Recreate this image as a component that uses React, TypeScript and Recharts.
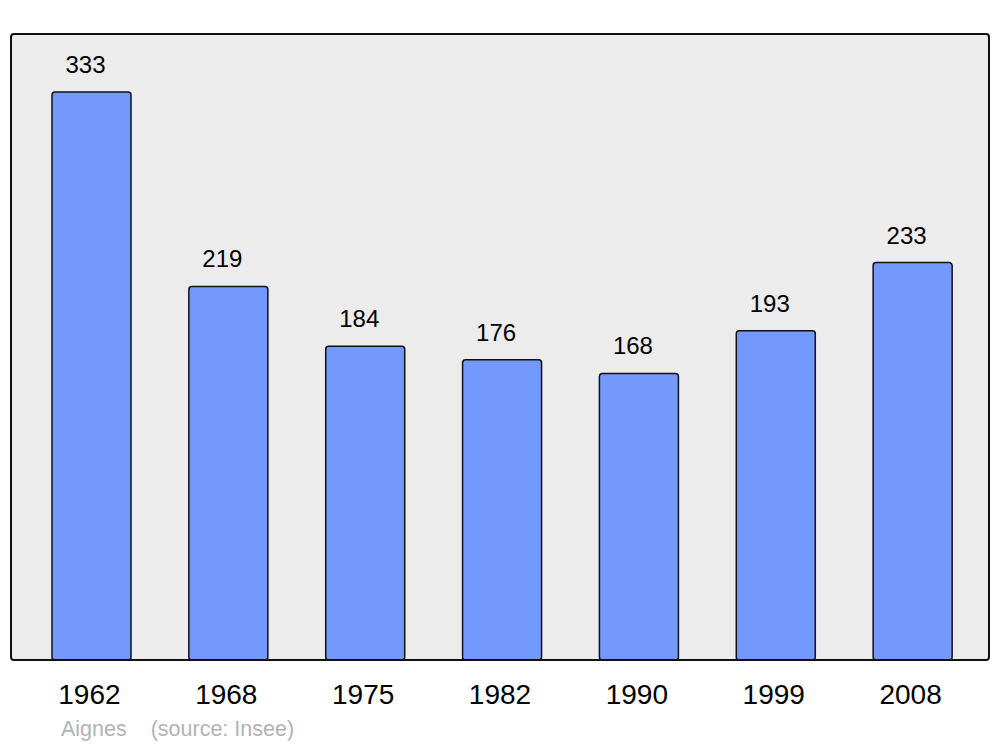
import { BarChart, Bar, XAxis, YAxis, CartesianGrid, LabelList } from 'recharts';

const years = ['1962', '1968', '1975', '1982', '1990', '1999', '2008'];
const population = [333, 219, 184, 176, 168, 193, 233];

const data = years.map((year, i) => ({ year, population: population[i] }));

const FONT = '"Liberation Sans", Arial, sans-serif';

// value labels sit a little left of the bar centre in the original
const renderValue = (props: any) => {
  const { x, y, width, value } = props;
  return (
    <text x={Number(x) + Number(width) / 2 - 6} y={Number(y) - 19} textAnchor="middle" fontSize={24} fill="#000" fontFamily={FONT}>
      {value}
    </text>
  );
};

const App = () => {
  return (
    <div style={{ position: 'absolute', left: 0, top: 0, width: 1000, height: 747, background: '#fff', fontFamily: FONT }}>
      <BarChart width={1000} height={747} data={data} margin={{ top: 34, right: 11, bottom: 27, left: 11 }}>
        <CartesianGrid fill="#ececec" horizontal={false} vertical={false} />
        <XAxis
          dataKey="year"
          height={60}
          axisLine={false}
          tickLine={false}
          tickSize={0}
          tickMargin={24}
          padding={{ left: 12, right: 8 }}
          tick={{ fontSize: 28, fill: '#000', fontFamily: FONT, dx: -2 }}
          interval={0}
        />
        <YAxis hide domain={[0, 367]} />
        <Bar dataKey="population" fill="#7399ff" stroke="#111" strokeWidth={1.5} barSize={79} radius={3} isAnimationActive={false}>
          <LabelList dataKey="population" content={renderValue} />
        </Bar>
      </BarChart>
      <div
        style={{
          position: 'absolute',
          left: 10,
          top: 33,
          width: 980,
          height: 628,
          boxSizing: 'border-box',
          border: '2px solid #111',
          borderRadius: 4,
          pointerEvents: 'none',
        }}
      />
      <div style={{ position: 'absolute', left: 61, top: 719, fontSize: 21.5, lineHeight: '21px', color: '#b3b3b3', whiteSpace: 'pre' }}>
        Aignes{'    '}(source: Insee)
      </div>
    </div>
  );
};

export default App;
